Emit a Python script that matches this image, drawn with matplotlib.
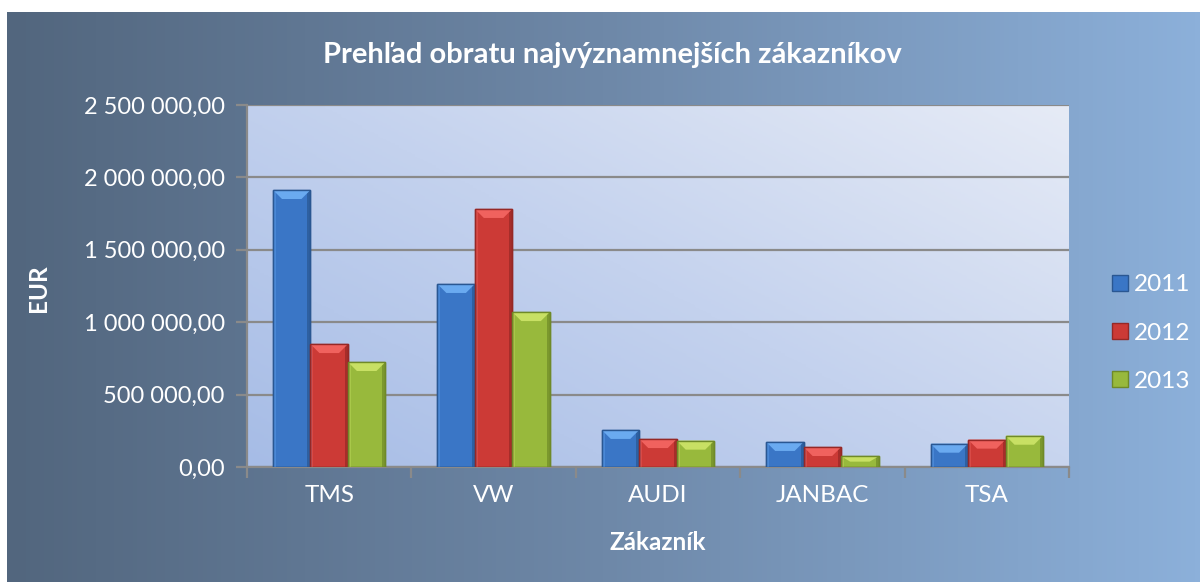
import matplotlib
matplotlib.use("Agg")
import matplotlib.pyplot as plt
import numpy as np
from matplotlib.patches import Polygon, Rectangle
from matplotlib.colors import LinearSegmentedColormap
from matplotlib.ticker import FuncFormatter, MultipleLocator
from matplotlib.lines import Line2D

categories = ["TMS", "VW", "AUDI", "JANBAC", "TSA"]
years = ["2011", "2012", "2013"]
v2011 = [1913000, 1264000, 256000, 173000, 161000]
v2012 = [849000, 1782000, 193000, 138000, 189000]
v2013 = [725000, 1070000, 182000, 74000, 216000]
series = [v2011, v2012, v2013]

title = "Prehľad obratu najvýznamnejších zákazníkov"
xlabel = "Zákazník"
ylabel = "EUR"

face = ["#3a76c6", "#cc3a36", "#98b93c"]
light = ["#6aaaf0", "#f0625e", "#c8e064"]
dark = ["#2a5792", "#962826", "#6f8a28"]
side_l = ["#4a88d6", "#d84a46", "#a8c84a"]

plt.rcParams['font.family'] = ['Lato', 'DejaVu Sans']

W, H = 1200, 582
fig = plt.figure(figsize=(W / 100, H / 100), dpi=100)
fig.patch.set_facecolor("white")

# background gradient
bg = fig.add_axes([7 / W, 0, (W - 7) / W, (H - 12) / H])
bg.set_axis_off()
cmap_bg = LinearSegmentedColormap.from_list("bg", ["#52667e", "#6e88a8", "#8cb0da"])
grad = np.linspace(0, 1, 256).reshape(1, -1)
bg.imshow(grad, aspect="auto", cmap=cmap_bg, extent=[0, 1, 0, 1])
bg.set_xlim(0, 1)
bg.set_ylim(0, 1)

ax = fig.add_axes([247 / W, 1 - 467 / H, (1069 - 247) / W, (467 - 105) / H])
ax.set_xlim(-0.5, len(categories) - 0.5)
ax.set_ylim(0, 2500000)
ax.set_facecolor("none")

# plot-area diagonal gradient
xx, yy = np.meshgrid(np.linspace(0, 1, 200), np.linspace(0, 1, 200))
diag = (xx * 0.55 + yy * 0.45)
cmap_pa = LinearSegmentedColormap.from_list("pa", ["#a6bce6", "#c4d2ee", "#e6ebf6"])
ax.imshow(diag, origin="lower", aspect="auto", cmap=cmap_pa,
          extent=[0, 1, 0, 1], transform=ax.transAxes, zorder=0)

ax.yaxis.set_major_locator(MultipleLocator(500000))
ax.grid(axis="y", color="#8a8a8a", linewidth=1.6, zorder=1)
ax.set_axisbelow(True)

def fmt(v, pos):
    s = f"{v:,.2f}".replace(",", " ").replace(".", ",")
    return s
ax.yaxis.set_major_formatter(FuncFormatter(fmt))

n = len(series)
bw = 0.228
offsets = (np.arange(n) - (n - 1) / 2) * bw
x = np.arange(len(categories))

# pixel -> data conversions
px_x = (len(categories)) / (1069 - 247)
px_y = 2500000 / (467 - 105)
bev_y = 9 * px_y
bev_x = 9 * px_x
side = 3 * px_x

for i, vals in enumerate(series):
    bars = ax.bar(x + offsets[i], vals, width=bw, color=face[i],
                  edgecolor=dark[i], linewidth=1.0, zorder=3, label=years[i])
    for b in bars:
        x0 = b.get_x()
        w = b.get_width()
        h = b.get_height()
        bh = min(bev_y, h * 0.5)
        bx = min(bev_x, w * 0.3)
        ax.add_patch(Rectangle((x0, 0), side, h, facecolor=side_l[i],
                               edgecolor="none", zorder=3.5))
        ax.add_patch(Rectangle((x0 + w - side, 0), side, h, facecolor=dark[i],
                               edgecolor="none", zorder=3.5, alpha=0.7))
        ax.add_patch(Polygon([(x0, h), (x0 + w, h), (x0 + w - bx, h - bh),
                              (x0 + bx, h - bh)], closed=True,
                             facecolor=light[i], edgecolor="none", zorder=4))
        ax.add_patch(Rectangle((x0, 0), w, h, facecolor="none",
                               edgecolor=dark[i], linewidth=1.0, zorder=4.5))

for s in ["top", "right"]:
    ax.spines[s].set_visible(False)
for s in ["left", "bottom"]:
    ax.spines[s].set_color("#8a8a8a")
    ax.spines[s].set_linewidth(1.6)

ax.set_xticks(np.arange(-0.5, len(categories), 1.0))
ax.set_xticklabels([])
ax.set_xticks(x, minor=True)
ax.set_xticklabels(categories, minor=True)
ax.tick_params(axis="x", which="major", length=8, width=1.6, color="#8a8a8a")
ax.tick_params(axis="x", which="minor", length=0, pad=13, labelsize=17.5, labelcolor="white")
ax.tick_params(axis="y", length=8, width=1.6, color="#8a8a8a", labelsize=17,
               labelcolor="white", pad=8)

fig.text(612 / W, 1 - 55 / H, title, color="white", fontsize=21,
         fontweight="bold", ha="center", va="center")
fig.text(658 / W, 1 - 543 / H, xlabel, color="white", fontsize=17.5,
         fontweight="bold", ha="center", va="center")
fig.text(38 / W, 1 - 288 / H, ylabel, color="white", fontsize=17.5,
         fontweight="bold", ha="center", va="center", rotation=90)

handles = [Line2D([0], [0], marker="s", linestyle="none", markersize=11,
                  markerfacecolor=face[i], markeredgecolor=dark[i]) for i in range(n)]
leg = fig.legend(handles, years, loc="center left",
                 bbox_to_anchor=(1110 / W, 1 - 333 / H), frameon=False,
                 fontsize=17.5, labelcolor="white", handlelength=0.8,
                 handletextpad=0.2, labelspacing=1.12, borderpad=0,
                 borderaxespad=0)

fig.savefig("out.png", dpi=100, facecolor="white")
